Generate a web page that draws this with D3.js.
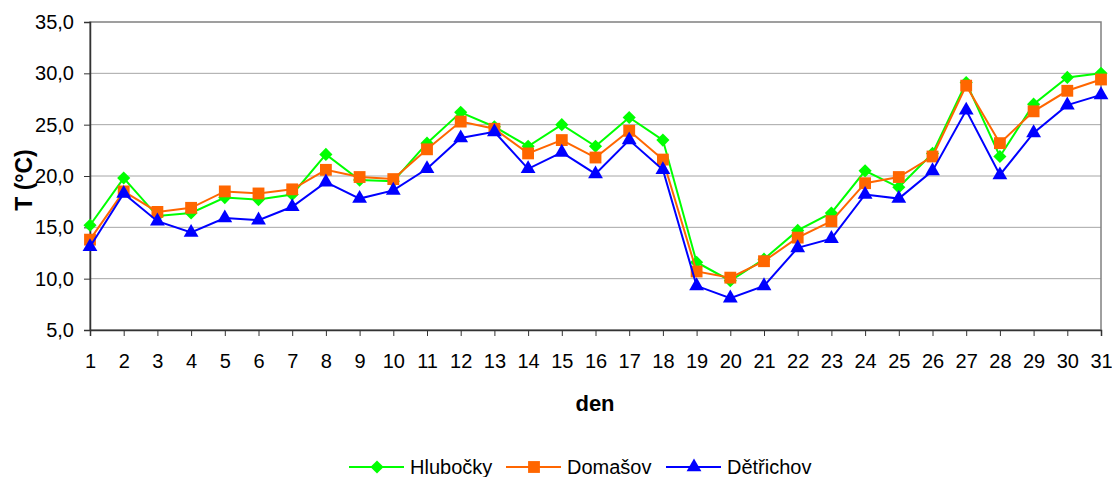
<!DOCTYPE html>
<meta charset="utf-8">
<style>
  body { margin: 0; background: #fff; }
  svg text { font-family: "Liberation Sans", Arial, sans-serif; fill: #000; }
</style>
<body>
<div id="chart"></div>
<script src="https://cdn.jsdelivr.net/npm/d3@7"></script>
<script>

// data
var days = d3.range(1, 32);
var hlubocky = [15.2, 19.8, 16.1, 16.4, 17.9, 17.7, 18.2, 22.1, 19.6, 19.5,
                23.2, 26.2, 24.8, 22.9, 25.0, 22.9, 25.7, 23.5, 11.6, 9.8,
                11.9, 14.7, 16.4, 20.5, 18.9, 22.2, 29.1, 21.9, 27.0, 29.6, 30.0];
var domasov  = [13.8, 18.5, 16.5, 16.9, 18.5, 18.3, 18.7, 20.6, 19.9, 19.7,
                22.6, 25.3, 24.6, 22.2, 23.5, 21.8, 24.4, 21.6, 10.7, 10.1,
                11.7, 14.0, 15.6, 19.3, 19.9, 21.9, 28.8, 23.2, 26.3, 28.3, 29.4];
var detrichov = [13.1, 18.3, 15.6, 14.5, 15.9, 15.7, 17.0, 19.4, 17.8, 18.6,
                 20.7, 23.7, 24.3, 20.7, 22.3, 20.2, 23.5, 20.6, 9.3, 8.1,
                 9.3, 13.0, 13.9, 18.2, 17.8, 20.5, 26.4, 20.1, 24.2, 26.9, 27.9];
var yTicks = [5, 10, 15, 20, 25, 30, 35];

var series = [
  {name: "Hlubočky", values: hlubocky, color: "#00ff00", symbol: d3.symbolDiamond2, size: 110},
  {name: "Domašov", values: domasov, color: "#ff6600", symbol: d3.symbolSquare, size: 140},
  {name: "Dětřichov", values: detrichov, color: "#0000ff", symbol: d3.symbolTriangle, size: 95}
];

var W = 1112, H = 477;
var margin = {top: 22, right: 11, bottom: 147, left: 90};
var width = W - margin.left - margin.right,
    height = H - margin.top - margin.bottom;

var svg = d3.select("#chart").append("svg")
    .attr("width", W).attr("height", H);
var g = svg.append("g")
    .attr("transform", "translate(" + margin.left + "," + margin.top + ")");

var x = d3.scaleLinear().domain([1, 31]).range([0, width]);
var y = d3.scaleLinear().domain([5, 35]).range([height, 0]);

// gridlines
g.selectAll(".grid").data(yTicks.slice(1, -1)).enter().append("line")
    .attr("x1", 0).attr("x2", width)
    .attr("y1", function(d) { return y(d); }).attr("y2", function(d) { return y(d); })
    .attr("stroke", "#a6a6a6").attr("stroke-width", 1);

// plot border
g.append("rect").attr("width", width).attr("height", height)
    .attr("fill", "none").attr("stroke", "#808080").attr("stroke-width", 1.5);

// y axis
var yAxis = g.append("g")
    .call(d3.axisLeft(y).tickValues(yTicks).tickSize(6).tickPadding(10)
      .tickFormat(function(d) { return d3.format(".1f")(d).replace(".", ","); }));
yAxis.select(".domain").attr("stroke", "#333").attr("stroke-width", 1.5);
yAxis.selectAll(".tick line").attr("stroke", "#333");
yAxis.selectAll("text").attr("font-size", 20).attr("fill", "#000");

// x axis
var xAxis = g.append("g")
    .attr("transform", "translate(0," + height + ")")
    .call(d3.axisBottom(x).tickValues(days).tickSize(6).tickPadding(18)
      .tickFormat(d3.format("d")));
xAxis.select(".domain").attr("stroke", "#333").attr("stroke-width", 1.5);
xAxis.selectAll(".tick line").attr("stroke", "#333");
xAxis.selectAll("text").attr("font-size", 20).attr("fill", "#000");

// axis titles
svg.append("text")
    .attr("transform", "translate(32,180) rotate(-90)")
    .attr("text-anchor", "middle").attr("font-size", 23).attr("font-weight", "bold")
    .text("T (°C)");
svg.append("text")
    .attr("x", 595).attr("y", 411)
    .attr("text-anchor", "middle").attr("font-size", 22).attr("font-weight", "bold")
    .text("den");

// lines and markers
var line = d3.line()
    .x(function(d, i) { return x(days[i]); })
    .y(function(d) { return y(d); });

series.forEach(function(s) {
  g.append("path")
      .datum(s.values)
      .attr("fill", "none")
      .attr("stroke", s.color)
      .attr("stroke-width", 2)
      .attr("d", line);
  g.selectAll(null).data(s.values).enter().append("path")
      .attr("transform", function(d, i) { return "translate(" + x(days[i]) + "," + y(d) + ")"; })
      .attr("d", d3.symbol().type(s.symbol).size(s.size))
      .attr("fill", s.color);
});

// legend
var legendX = [349, 506, 666];
var legend = svg.append("g").attr("transform", "translate(0,467)");
series.forEach(function(s, i) {
  var lg = legend.append("g").attr("transform", "translate(" + legendX[i] + ",0)");
  lg.append("line").attr("x1", 0).attr("x2", 55).attr("stroke", s.color).attr("stroke-width", 2);
  lg.append("path").attr("transform", "translate(28,0)")
      .attr("d", d3.symbol().type(s.symbol).size(s.size)).attr("fill", s.color);
  lg.append("text").attr("x", 61).attr("y", 7).attr("font-size", 20).text(s.name);
});

</script>
</body>
